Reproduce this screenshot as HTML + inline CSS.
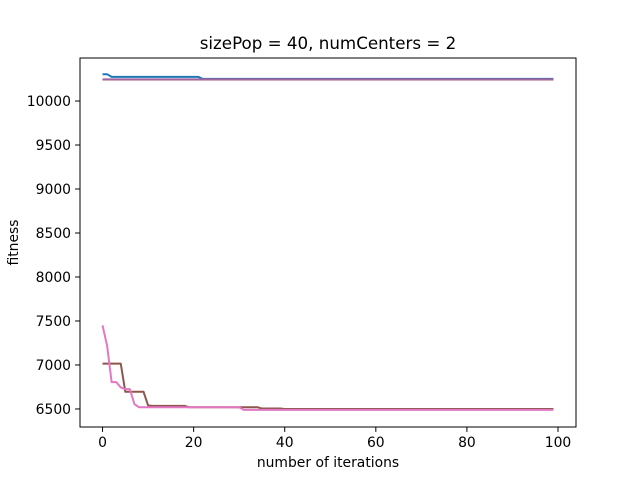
<!DOCTYPE html>
<html><head><meta charset="utf-8"><style>
body{margin:0;background:#fff}
svg text{font-family:"DejaVu Sans","Liberation Sans",sans-serif;font-size:13.9px;fill:#000}
</style></head><body>
<svg width="640" height="480">
<rect width="640" height="480" fill="#fff"/>
<g id="plot"></g>
</svg>
<script>
const xTicks=[0,20,40,60,80,100];
const yTicks=[6500,7000,7500,8000,8500,9000,9500,10000];
// run-length series: [value, count]
const blueRuns=[[10305,2],[10275,20],[10252,78]];
const orangeRuns=[[10245,100]];
const greenRuns=[[10245,100]];
const redRuns=[[10245,100]];
const purpleRuns=[[10246,100]];
const brownRuns=[[7015,5],[6695,5],[6540,1],[6535,8],[6520,16],[6505,5],[6500,60]];
const pinkRuns=[[7450,1],[7220,1],[6805,2],[6745,1],[6725,2],[6555,1],[6520,23],[6490,69]];
const colors=['#1f77b4','#ff7f0e','#2ca02c','#d62728','#a0649e','#8c564b','#e377c2'];
const names=['series-0','series-1','series-2','series-3','series-4','series-5','series-6'];
const L=80,R=576,T=58,B=427;
const xmin=-4.95,xmax=103.95,ymin=6295,ymax=10489;
const sx=v=>L+(v-xmin)/(xmax-xmin)*(R-L);
const sy=v=>B-(v-ymin)/(ymax-ymin)*(B-T);
const NS='http://www.w3.org/2000/svg';
const g=document.getElementById('plot');
function mk(t,a){const e=document.createElementNS(NS,t);for(const k in a)e.setAttribute(k,a[k]);g.appendChild(e);return e;}
function expand(runs){const o=[];runs.forEach(r=>{for(let i=0;i<r[1];i++)o.push(r[0]);});return o;}
[blueRuns,orangeRuns,greenRuns,redRuns,purpleRuns,brownRuns,pinkRuns].forEach((runs,si)=>{
  const d=expand(runs);
  const p=mk('polyline',{points:d.map((v,i)=>sx(i)+','+sy(v)).join(' '),fill:'none',stroke:colors[si],'stroke-width':2,'stroke-linejoin':'round'});
  
  
});
const f=mk('rect',{x:L,y:T,width:R-L,height:B-T,fill:'none',stroke:'#000','stroke-width':1});


xTicks.forEach(v=>{
  mk('line',{x1:sx(v),x2:sx(v),y1:B,y2:B+4.9,stroke:'#000','stroke-width':1});
  const t=mk('text',{x:sx(v),y:B+20,'text-anchor':'middle'});t.textContent=v;
  
  
});
yTicks.forEach(v=>{
  mk('line',{x1:L-4.9,x2:L,y1:sy(v),y2:sy(v),stroke:'#000','stroke-width':1});
  const t=mk('text',{x:L-9,y:sy(v)+5,'text-anchor':'end'});t.textContent=v;
  
  
});
let t=mk('text',{x:(L+R)/2,y:467,'text-anchor':'middle'});t.textContent='number of iterations';


t=mk('text',{x:18,y:(T+B)/2,'text-anchor':'middle',transform:'rotate(-90 18 '+(T+B)/2+')'});t.textContent='fitness';


t=mk('text',{x:(L+R)/2,y:49,'text-anchor':'middle',style:'font-size:16.7px'});t.textContent='sizePop = 40, numCenters = 2';


</script>
</body></html>
